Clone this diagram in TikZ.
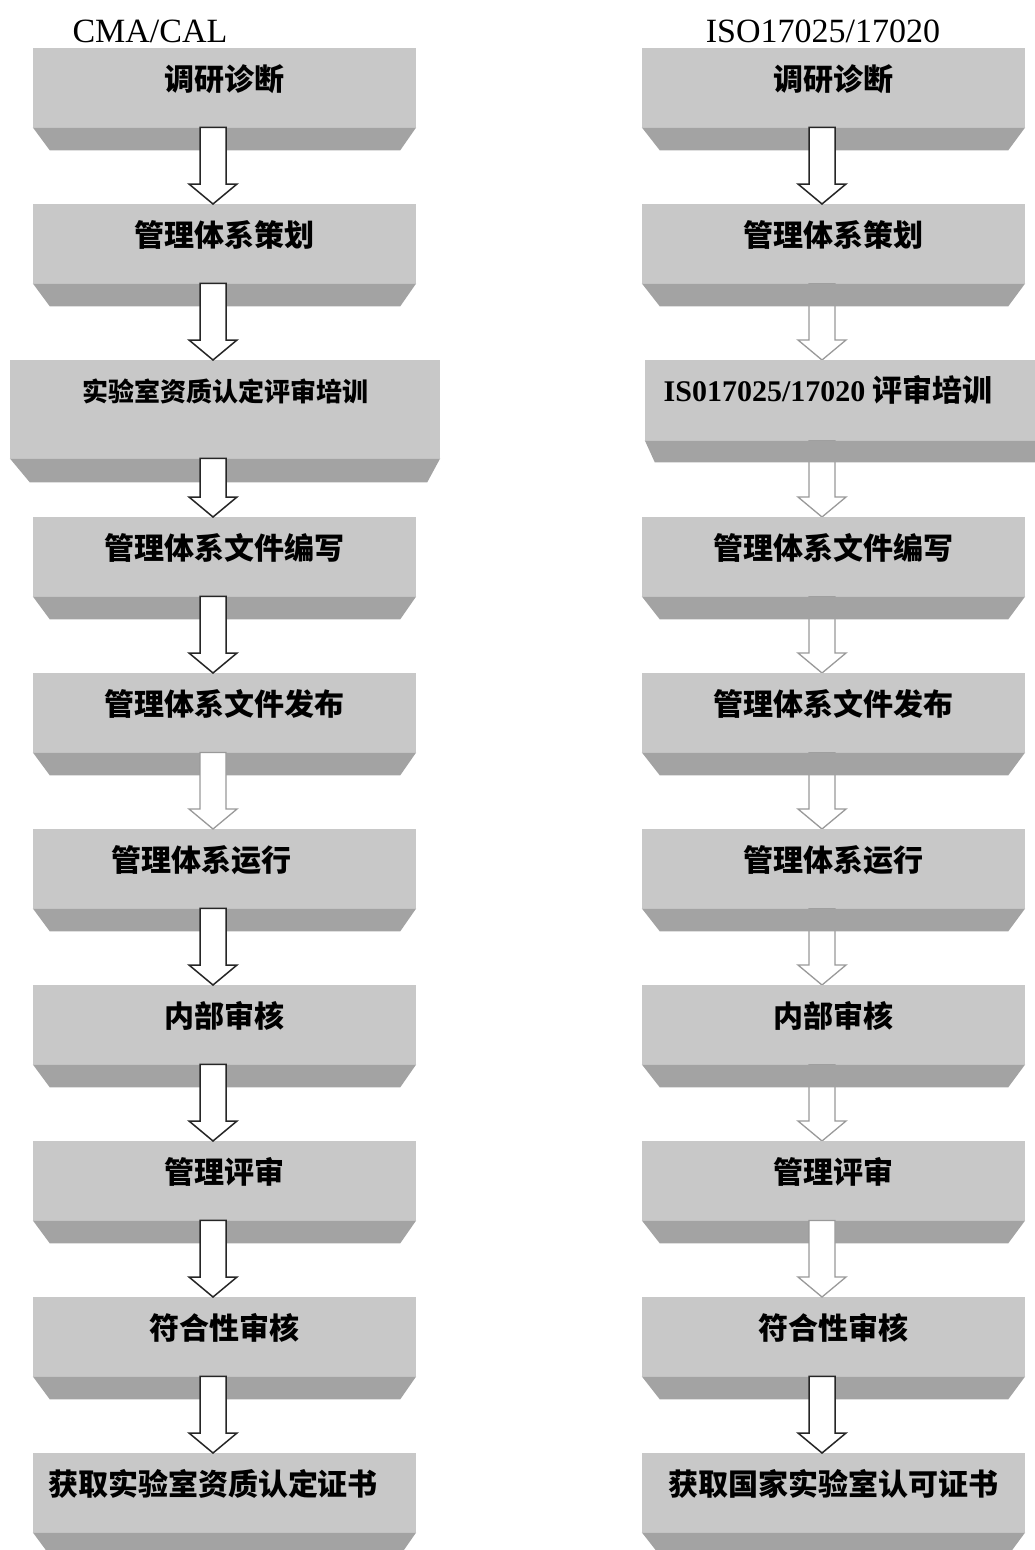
\documentclass[tikz,border=0pt]{standalone}
\usepackage{fontspec}
\setmainfont{Liberation Serif}
\newfontfamily\cjk{Noto Sans CJK SC}
\usetikzlibrary{calc,backgrounds}

\definecolor{facegray}{RGB}{200,200,200}
\definecolor{bevelgray}{RGB}{163,163,163}

% slanted lower edge under a box
\newcommand{\facebevel}[4]{%
  \fill[bevelgray] (#1.south west) -- (#1.south east) -- ($(#1.south east)+(-#3,#4)$) -- ($(#1.south west)+(#2,#4)$) -- cycle;}

% hollow block arrow: column, start, tip
\newcommand{\blockarrow}[4][darkarrow]{%
  \draw[#1] let \p1=(#2), \p2=(#3), \p3=(#4) in
    (\x1-13pt,\y2) -- (\x1+13pt,\y2) -- (\x1+13pt,\y3+20pt) -- (\x1+24pt,\y3+20pt)
    -- (\x1,\y3) -- (\x1-24pt,\y3+20pt) -- (\x1-13pt,\y3+20pt) -- cycle;}

\tikzset{
  face/.style={rectangle, fill=facegray, anchor=north, minimum width=383pt, inner sep=0pt,
    text height=42pt, text depth=37pt, font=\cjk\bfseries\fontsize{30}{36}\selectfont},
  heading/.style={anchor=base, font=\fontsize{34}{40}\selectfont},
  darkarrow/.style={draw=black!85, fill=white, line width=1.5pt},
  lightarrow/.style={draw=black!40, fill=white, line width=1.3pt}
}

\begin{document}
\begin{tikzpicture}[x=1pt,y=-1pt]
\useasboundingbox (0,0) rectangle (1035,1550);
\coordinate (colL) at (213,0);
\coordinate (colR) at (822,0);

\node[heading] (titleL) at (150,42) {CMA/CAL};
\node[heading] (titleR) at (823,42) {ISO17025/17020};

% CMA/CAL
\node[face] (L1) at (224.5,48) {调研诊断};
\node[face] (L2) at (224.5,204) {管理体系策划};
\node[face, minimum width=430pt, text height=41pt, text depth=57pt,
  font=\cjk\bfseries\fontsize{26}{30}\selectfont] (L3) at (225,360) {实验室资质认定评审培训};
\node[face] (L4) at (224.5,517) {管理体系文件编写};
\node[face] (L5) at (224.5,673) {管理体系文件发布};
\node[face] (L6) at (224.5,829) {管理体系运行\hspace*{47pt}};
\node[face] (L7) at (224.5,985) {内部审核};
\node[face] (L8) at (224.5,1141) {管理评审};
\node[face] (L9) at (224.5,1297) {符合性审核};
\node[face] (L10) at (224.5,1453) {获取实验室资质认定证书\hspace*{23pt}};

\facebevel{L1}{17}{16}{23}
\facebevel{L2}{17}{16}{23}
\facebevel{L3}{20}{13}{24}
\facebevel{L4}{17}{16}{23}
\facebevel{L5}{17}{16}{23}
\facebevel{L6}{17}{16}{23}
\facebevel{L7}{17}{16}{23}
\facebevel{L8}{17}{16}{23}
\facebevel{L9}{17}{16}{23}
\facebevel{L10}{17}{16}{23}

% ISO17025/17020
\node[face] (R1) at (833.5,48) {调研诊断};
\node[face] (R2) at (833.5,204) {管理体系策划};
\node[face, minimum width=400pt, text height=41pt, text depth=39pt] (R3) at (845,360)
  {{\rmfamily\bfseries IS017025/17020} 评审培训\hspace*{34pt}};
\node[face] (R4) at (833.5,517) {管理体系文件编写};
\node[face] (R5) at (833.5,673) {管理体系文件发布};
\node[face] (R6) at (833.5,829) {管理体系运行};
\node[face] (R7) at (833.5,985) {内部审核};
\node[face] (R8) at (833.5,1141) {管理评审};
\node[face] (R9) at (833.5,1297) {符合性审核};
\node[face] (R10) at (833.5,1453) {获取国家实验室认可证书};

\facebevel{R1}{18}{17}{23}
\facebevel{R2}{18}{17}{23}
\facebevel{R3}{10}{10}{22}
\facebevel{R4}{18}{17}{23}
\facebevel{R5}{18}{17}{23}
\facebevel{R6}{18}{17}{23}
\facebevel{R7}{18}{17}{23}
\facebevel{R8}{18}{17}{23}
\facebevel{R9}{18}{17}{23}
\facebevel{R10}{18}{17}{23}

% arrows
\blockarrow{colL}{L1.south}{L2.north}
\blockarrow{colL}{L2.south}{L3.north}
\blockarrow{colL}{L3.south}{L4.north}
\blockarrow{colL}{L4.south}{L5.north}
\blockarrow[lightarrow]{colL}{L5.south}{L6.north}
\blockarrow{colL}{L6.south}{L7.north}
\blockarrow{colL}{L7.south}{L8.north}
\blockarrow{colL}{L8.south}{L9.north}
\blockarrow{colL}{L9.south}{L10.north}

\blockarrow{colR}{R1.south}{R2.north}
\begin{pgfonlayer}{background}
\blockarrow[lightarrow]{colR}{R2.south}{R3.north}
\blockarrow[lightarrow]{colR}{R3.south}{R4.north}
\blockarrow[lightarrow]{colR}{R4.south}{R5.north}
\blockarrow[lightarrow]{colR}{R5.south}{R6.north}
\blockarrow[lightarrow]{colR}{R6.south}{R7.north}
\blockarrow[lightarrow]{colR}{R7.south}{R8.north}
\end{pgfonlayer}
\blockarrow[lightarrow]{colR}{R8.south}{R9.north}
\blockarrow{colR}{R9.south}{R10.north}
\end{tikzpicture}
\end{document}
